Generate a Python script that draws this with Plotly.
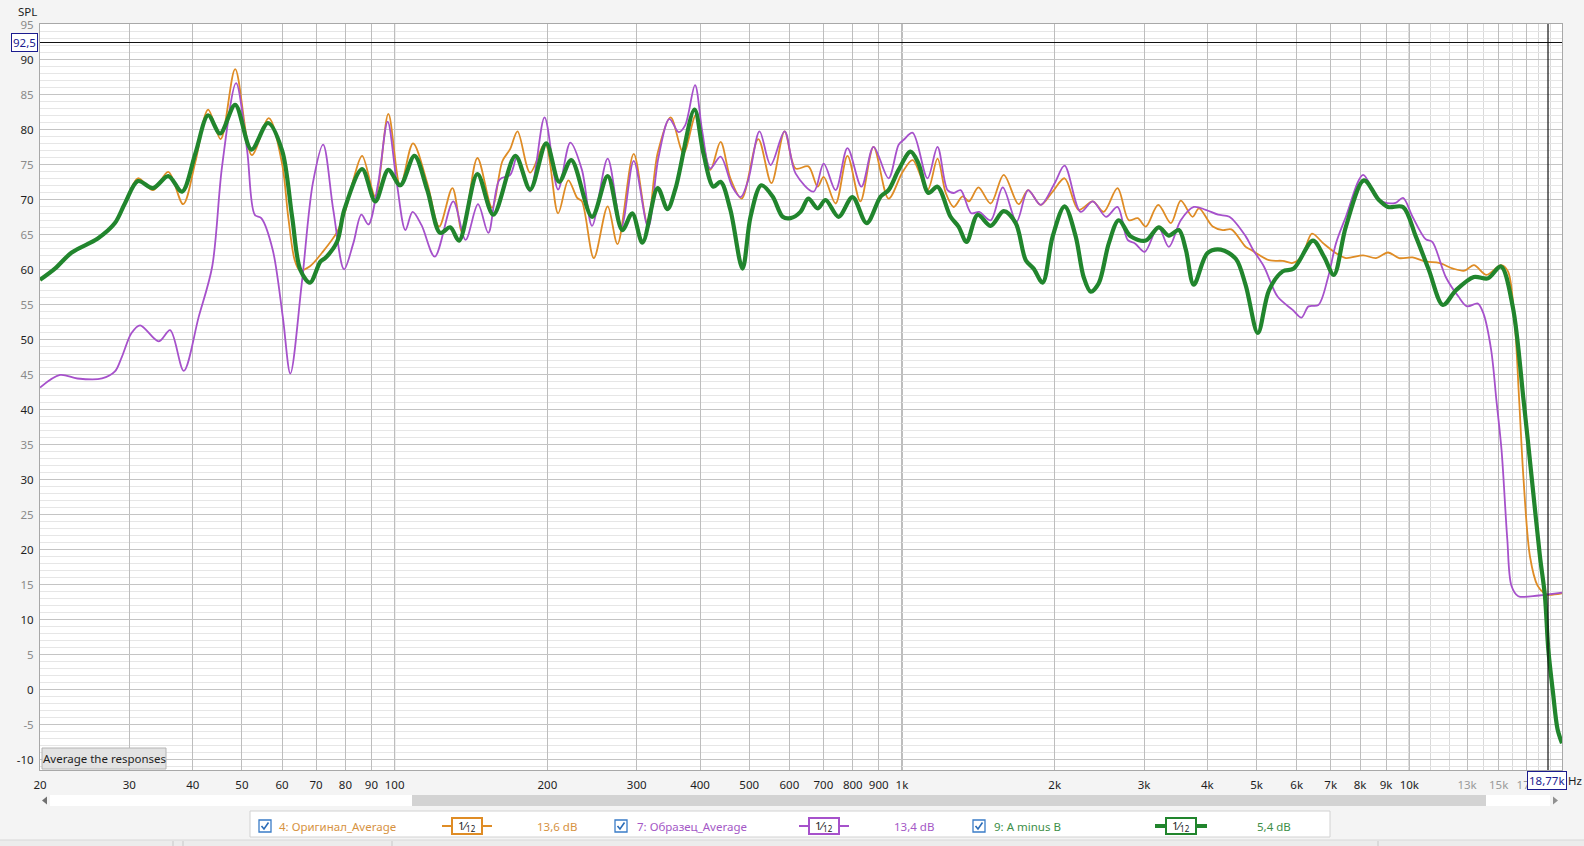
import plotly.graph_objects as go

# ---------------- data ----------------
orig_f = [20, 21.4, 23.1, 26, 28.1, 29.4, 31.2, 33.4, 35.8, 38.3, 40.5, 42.9, 45.4, 48.5, 52.3, 56.5,
          60, 61.7, 63.5, 65, 68, 72, 77, 80, 83, 86.3, 91.6, 97.2, 102.6, 108.7, 116, 122.4, 130,
          136, 145.6, 155.6, 163, 169, 174.7, 185, 198, 210, 220, 229, 234, 247, 263, 275, 296,
          315, 330, 350, 371, 393, 419, 439, 459, 483, 521, 553, 587, 617, 654, 682, 701, 740,
          781, 828, 879, 941, 1003, 1050, 1123, 1175, 1220, 1265, 1317, 1356, 1415, 1496, 1587,
          1698, 1773, 1877, 1982, 2092, 2230, 2378, 2498, 2660, 2800, 2916, 3024, 3200, 3390,
          3545, 3740, 3850, 4098, 4290, 4460, 4760, 4870, 5290, 5630, 5890, 6140, 6430, 6770,
          7170, 7500, 8110, 8600, 9080, 9550, 10150, 10770, 11450, 12200, 12850, 13410, 14200,
          15160, 15650, 16150, 16450, 16800, 17300, 17900, 18400, 18770, 20000]
orig_db = [58.6, 60.2, 62.5, 64.5, 66.7, 69.5, 73.1, 71.4, 74.0, 69.4, 75.5, 82.9, 78.7, 88.7, 76.4, 81.7,
           75.2, 67.6, 61.5, 60.0, 60.5, 62.5, 65.4, 68.5, 73.0, 76.3, 70.5, 82.3, 72.0, 78.1, 72.4, 66.2, 71.7,
           65.3, 76.0, 68.9, 75.5, 77.3, 79.8, 73.9, 78.1, 68.1, 72.8, 70.3, 69.8, 61.7, 69.1, 63.7, 76.6,
           66.7, 76.7, 81.8, 76.7, 82.2, 74.3, 78.3, 73.1, 70.2, 78.7, 72.4, 79.8, 74.5, 74.8, 71.9, 73.3, 69.5,
           76.3, 69.8, 77.6, 70.2, 74.0, 75.7, 71.4, 75.9, 71.0, 69.0, 70.5, 69.8, 71.8, 69.5, 73.6,
           69.4, 71.4, 69.3, 71.2, 73.1, 68.6, 69.8, 68.3, 71.7, 67.1, 67.4, 66.2, 69.3, 66.7,
           69.9, 67.6, 68.8, 66.2, 65.7, 65.8, 63.3, 62.9, 61.4, 61.3, 61.0, 61.9, 65.2, 63.8,
           62.4, 61.7, 62.1, 61.7, 62.5, 61.7, 61.8, 61.2, 61.0, 60.2, 59.9, 60.7, 59.3,
           60.7, 59.8, 52.0, 42.0, 30.0, 19.0, 14.9, 13.9, 13.6, 13.8]

sample_f = [20, 21.9, 23.7, 26.5, 28.1, 29, 30.3, 31.5, 34.3, 36.1, 38.4, 41.1, 43.7, 45.7, 48.7, 51.2,
            53, 54.6, 57.5, 60.2, 62.3, 65.6, 69, 72.3, 75.7, 79.5, 82.9, 86, 88.8, 92.8, 96.9, 101,
            105, 108.5, 113, 120, 130.5, 138, 146, 153, 161, 169, 174.5, 185, 197.5, 210, 222, 234,
            245, 263, 280, 296, 316, 331, 348, 363, 374, 391, 404, 419, 439, 463, 481, 498, 524,
            551, 587, 617, 670, 701, 740, 781, 832, 879, 941, 985, 1008, 1050, 1123, 1175, 1230,
            1265, 1305, 1370, 1420, 1496, 1580, 1682, 1773, 1877, 2000, 2092, 2250, 2378, 2525,
            2660, 2785, 2880, 3010, 3200, 3358, 3545, 3760, 3970, 4200, 4420, 4760, 4920, 5170,
            5500, 5890, 6130, 6330, 6620, 6920, 7170, 7500, 8110, 8600, 8900, 9400, 9720, 10150,
            10770, 11100, 11800, 12500, 13000, 13650, 14000, 14500, 14850, 15200, 15600, 15900,
            16400, 18000, 20000]
sample_db = [43.2, 45.0, 44.5, 44.5, 45.5, 47.6, 51.0, 52.1, 49.8, 51.4, 45.6, 53.3, 60.5, 74.8, 86.7, 77.1,
             67.9, 67.4, 62.9, 53.3, 45.2, 58.0, 72.4, 77.9, 68.6, 60.1, 63.8, 67.9, 66.5, 72.4, 81.2, 72.4,
             65.7, 68.3, 66.4, 61.9, 69.8, 64.3, 69.4, 65.3, 72.9, 73.6, 76.2, 71.2, 81.8, 71.5, 78.2, 74.3,
             66.3, 75.9, 66.2, 75.6, 66.1, 76.0, 81.6, 79.7, 80.7, 86.4, 79.8, 74.5, 76.2, 71.9, 70.4, 72.9, 79.8,
             75.0, 79.8, 73.8, 71.2, 75.2, 71.4, 77.4, 71.9, 77.6, 73.1, 77.9, 78.6, 79.6, 73.1, 77.6, 71.4,
             71.0, 71.4, 68.1, 68.3, 67.1, 71.8, 66.9, 71.4, 69.3, 72.4, 74.9, 68.3, 69.8, 67.6,
             69.0, 64.3, 63.8, 62.6, 66.2, 63.3, 67.1, 69.0, 68.6, 67.9, 67.6, 64.8, 62.9, 60.5,
             56.2, 54.3, 53.2, 54.8, 55.0, 59.0, 63.8, 67.6, 73.6, 70.5, 69.7, 69.6, 70.3, 67.6,
             64.4, 64.0, 59.0, 56.2, 54.8, 55.2, 53.8, 48.6, 41.4, 34.3, 21.6, 14.9,
             13.4, 13.5, 13.9]

diff_f = [20, 21.4, 23.1, 26, 28.1, 29.4, 31.2, 33.4, 35.8, 38.1, 40.5, 42.9, 45.3, 48.5, 52.2, 56.3,
          60, 62.8, 65.2, 68.1, 71.4, 73, 77, 79.6, 86.3, 91.6, 97.2, 102.6, 109.4, 116, 123, 128.7,
          134, 145.6, 156.5, 173, 185, 199, 211, 223, 245, 263, 281, 294, 308, 330, 345, 358, 390,
          406, 425, 439, 459, 485, 503, 528, 556, 582, 603, 631, 654, 682, 707, 750, 799, 852, 908,
          941, 985, 1040, 1078, 1128, 1175, 1247, 1293, 1341, 1410, 1496, 1587, 1676, 1754, 1818,
          1894, 1982, 2092, 2200, 2281, 2356, 2443, 2557, 2675, 2824, 3024, 3208, 3358, 3515, 3627,
          3760, 4000, 4250, 4550, 4760, 5030, 5290, 5630, 5920, 6460, 6790, 7100, 7500, 8140, 8710,
          9080, 9720, 10300, 10930, 11650, 12360, 13410, 14290, 15160, 16000, 16800, 17500, 18100,
          18500, 18800, 19200, 19600, 20000]
diff_db = [58.6, 60.2, 62.5, 64.5, 66.7, 69.5, 72.7, 71.7, 73.4, 71.2, 76.7, 82.1, 79.5, 83.6, 77.2, 81.0,
           77.1, 67.6, 60.0, 58.2, 61.2, 61.7, 64.0, 68.6, 74.4, 69.8, 74.3, 72.1, 76.3, 71.4, 65.3, 66.1,
           64.2, 73.7, 67.9, 76.3, 71.5, 78.1, 72.6, 75.7, 67.6, 73.4, 65.7, 68.1, 63.9, 71.7, 68.7, 71.7, 82.9,
           76.7, 71.9, 72.6, 68.6, 60.2, 67.6, 72.1, 70.5, 67.6, 67.4, 68.3, 70.2, 68.8, 70.0, 67.6, 70.4, 66.7, 70.5,
           71.4, 74.3, 76.9, 75.2, 71.0, 71.9, 67.6, 66.2, 64.0, 67.9, 66.3, 68.4, 66.7, 61.4, 60.2,
           58.2, 64.8, 69.1, 64.8, 59.0, 56.9, 58.1, 63.8, 67.1, 64.8, 64.2, 66.1, 64.9, 65.7, 62.9,
           57.9, 62.4, 62.9, 61.6, 57.8, 51.0, 57.1, 59.8, 60.2, 64.2, 61.9, 59.3, 66.2, 72.8, 70.0,
           69.0, 69.0, 64.8, 60.0, 55.0, 57.1, 59.0, 58.8, 60.5, 54.7, 41.4, 29.1, 19.0,
           13.6, 5.7, -0.4, -5.6, -7.6]

y_ticks = list(range(-10, 96, 5))
x_ticks = [20, 30, 40, 50, 60, 70, 80, 90, 100, 200, 300, 400, 500, 600, 700, 800, 900,
           1000, 2000, 3000, 4000, 5000, 6000, 7000, 8000, 9000, 10000, 13000, 15000, 17000]
x_labels = ["20", "30", "40", "50", "60", "70", "80", "90", "100", "200", "300", "400", "500",
            "600", "700", "800", "900", "1k", "2k", "3k", "4k", "5k", "6k", "7k", "8k", "9k", "10k",
            "13k", "15k", "17k"]
x_minor = [11000, 12000, 14000, 16000, 18000, 19000]
decades = [100, 1000, 10000]

cursor_db = 92.5
cursor_hz = 18770

legend_names = ["4: Оригинал_Average", "7: Образец_Average", "9: A minus B"]
legend_values = ["13,6 dB", "13,4 dB", "5,4 dB"]

# ---------------- styling ----------------
C_ORIG = "#DF8C25"
C_SAMP = "#A651CB"
C_DIFF = "#21852D"
T_ORIG = "#D6923F"
T_SAMP = "#A458C6"
T_DIFF = "#3D8E47"
FONT = "Noto Sans"
W, H = 1584, 846
L, R, T, B = 40, 22, 24, 76
PW, PH = W - L - R, H - T - B


def px(X):
    return (X - L) / PW


def py(Y):
    return (H - B - Y) / PH


fig = go.Figure()
for f, v, c, w in [(orig_f, orig_db, C_ORIG, 1.8), (sample_f, sample_db, C_SAMP, 1.8),
                   (diff_f, diff_db, C_DIFF, 4.2)]:
    fig.add_trace(go.Scatter(x=f, y=v, mode="lines",
                             line=dict(color=c, width=w, shape="spline", smoothing=0.9),
                             showlegend=False, hoverinfo="skip"))

y_text = []
for v in y_ticks:
    col = "#1e1e1e" if v % 10 == 0 else "#8a8a8a"
    y_text.append(f"<span style='color:{col}'>{v}</span>")
x_text = []
for v, t in zip(x_ticks, x_labels):
    col = "#9a9a9a" if v in (13000, 15000, 17000) else "#1e1e1e"
    x_text.append(f"<span style='color:{col}'>{t}</span>")

fig.update_layout(
    width=W, height=H, autosize=False,
    margin=dict(l=L, r=R, t=T, b=B, pad=0, autoexpand=False),
    paper_bgcolor="#f4f4f4", plot_bgcolor="white",
    font=dict(family=FONT, size=11.5, color="#1e1e1e"),
    showlegend=False,
    xaxis=dict(type="log", range=[1.30103, 4.30103], tickmode="array", tickvals=x_ticks,
               ticktext=x_text, showgrid=True, gridcolor="#bdbdbd", gridwidth=1,
               minor=dict(tickmode="array", tickvals=x_minor, showgrid=True, gridcolor="#d9d9d9"),
               showline=True, linecolor="#a8a8a8", mirror=True, zeroline=False, ticks="",
               ticklabelstandoff=4, automargin=False),
    yaxis=dict(range=[-11.43, 95.14], tickmode="array", tickvals=y_ticks, ticktext=y_text,
               showgrid=True, gridcolor="#c4c4c4", gridwidth=1,
               minor=dict(dtick=1, tick0=0, showgrid=True, gridcolor="#e6e6e6"),
               showline=True, linecolor="#a8a8a8", mirror=True, zeroline=False, ticks="",
               ticklabelstandoff=3, automargin=False),
)

shapes = []
for d in decades:
    shapes.append(dict(type="line", xref="x", yref="paper", x0=d, x1=d, y0=0, y1=1,
                       line=dict(color="#6a6a6a", width=1), layer="between"))
# cursors
shapes.append(dict(type="line", xref="paper", yref="y", x0=0, x1=1, y0=cursor_db, y1=cursor_db,
                   line=dict(color="#111111", width=1.2), layer="above"))
shapes.append(dict(type="line", xref="x", yref="paper", x0=cursor_hz, x1=cursor_hz, y0=0, y1=1,
                   line=dict(color="#111111", width=1.2), layer="above"))


def rect(x0, y0, x1, y1, fill, line_col=None, lw=1):
    shapes.append(dict(type="rect", xref="paper", yref="paper", x0=px(x0), x1=px(x1),
                       y0=py(y1), y1=py(y0), fillcolor=fill,
                       line=dict(color=line_col or fill, width=lw if line_col else 0),
                       layer="above"))


def hline(x0, x1, y, col, lw):
    shapes.append(dict(type="line", xref="paper", yref="paper", x0=px(x0), x1=px(x1),
                       y0=py(y), y1=py(y), line=dict(color=col, width=lw), layer="above"))


annotations = []


def text(X, Y, s, col="#1e1e1e", size=11.5, xa="center", ya="middle", **kw):
    annotations.append(dict(xref="paper", yref="paper", x=px(X), y=py(Y), text=s,
                            showarrow=False, xanchor=xa, yanchor=ya,
                            font=dict(family=FONT, size=size, color=col), **kw))


# scroll bar
rect(50, 795, 1550, 806, "white")
rect(412, 795, 1486, 806, "#d3d3d3")
shapes.append(dict(type="path", xref="paper", yref="paper",
                   path=f"M {px(42)},{py(800.5)} L {px(47)},{py(796.5)} L {px(47)},{py(804.5)} Z",
                   fillcolor="#707070", line=dict(width=0), layer="above"))
shapes.append(dict(type="path", xref="paper", yref="paper",
                   path=f"M {px(1558)},{py(800.5)} L {px(1553)},{py(796.5)} L {px(1553)},{py(804.5)} Z",
                   fillcolor="#909090", line=dict(width=0), layer="above"))

# legend panel
rect(250, 811, 1330, 837, "white", "#d2d2d2", 1)
# bottom strip
rect(0, 840, 1584, 846, "#ececec")
hline(0, 1584, 840, "#d8d8d8", 1)
for xs in (173, 183, 392, 1378):
    shapes.append(dict(type="line", xref="paper", yref="paper", x0=px(xs), x1=px(xs),
                       y0=py(841), y1=py(846), line=dict(color="#c8c8c8", width=1), layer="above"))

entries = [
    (265, 277, (442, 492), (452, 482), 557, C_ORIG, T_ORIG, 1.8),
    (621, 635, (799, 849), (809, 839), 914, C_SAMP, T_SAMP, 1.8),
    (979, 992, (1155, 1207), (1166, 1196), 1274, C_DIFF, T_DIFF, 4),
]
for i, (cbx, lx, (l0, l1), (b0, b1), vx, lc, tc, lw) in enumerate(entries):
    yc = 826
    shapes.append(dict(type="rect", xref="paper", yref="paper", x0=px(cbx - 6), x1=px(cbx + 6),
                       y0=py(yc + 6), y1=py(yc - 6), fillcolor="white",
                       line=dict(color="#3a7cc7", width=1.3), layer="above"))
    path = (f"M {px(cbx - 3.5)},{py(yc)} L {px(cbx - 1)},{py(yc + 3)} "
            f"L {px(cbx + 3.5)},{py(yc - 3.5)}")
    shapes.append(dict(type="path", xref="paper", yref="paper", path=path,
                       line=dict(color="#2a6cb8", width=1.6), layer="above"))
    text(lx, yc, legend_names[i], col=tc, xa="left")
    hline(l0, l1, yc, lc, lw)
    shapes.append(dict(type="rect", xref="paper", yref="paper", x0=px(b0), x1=px(b1),
                       y0=py(yc + 8), y1=py(yc - 8), fillcolor="white",
                       line=dict(color=lc, width=2), layer="above"))
    text((b0 + b1) / 2, yc, "1⁄<sub>12</sub>", col="#222222", size=11.5)
    text(vx, yc, legend_values[i], col=tc)

# button
shapes.append(dict(type="rect", xref="paper", yref="paper", x0=px(42), x1=px(166),
                   y0=py(769), y1=py(748), fillcolor="#e3e3e3",
                   line=dict(color="#b4b4b4", width=1), layer="above"))
text(104, 758, "Average the responses", col="#1e1e1e", size=11.5)

# axis title & cursor readouts
text(27, 11, "SPL", col="#1e1e1e", size=11.5)
text(24, 42, "92,5", col="#1b1b8f", size=11.5, bgcolor="white", bordercolor="#1b1b8f",
     borderwidth=1, borderpad=1)
text(1547, 781, "18,77k", col="#1b1b8f", size=11.5, bgcolor="white", bordercolor="#1b1b8f",
     borderwidth=1, borderpad=1)
text(1566, 781, "Hz", col="#1e1e1e", size=11.5, xa="left")

fig.update_layout(shapes=shapes, annotations=annotations)
fig.write_html("out.html", config={"displayModeBar": False, "staticPlot": True},
               post_script="document.body.style.margin='0';document.body.style.padding='0';"
                           "document.body.style.overflow='hidden';")
